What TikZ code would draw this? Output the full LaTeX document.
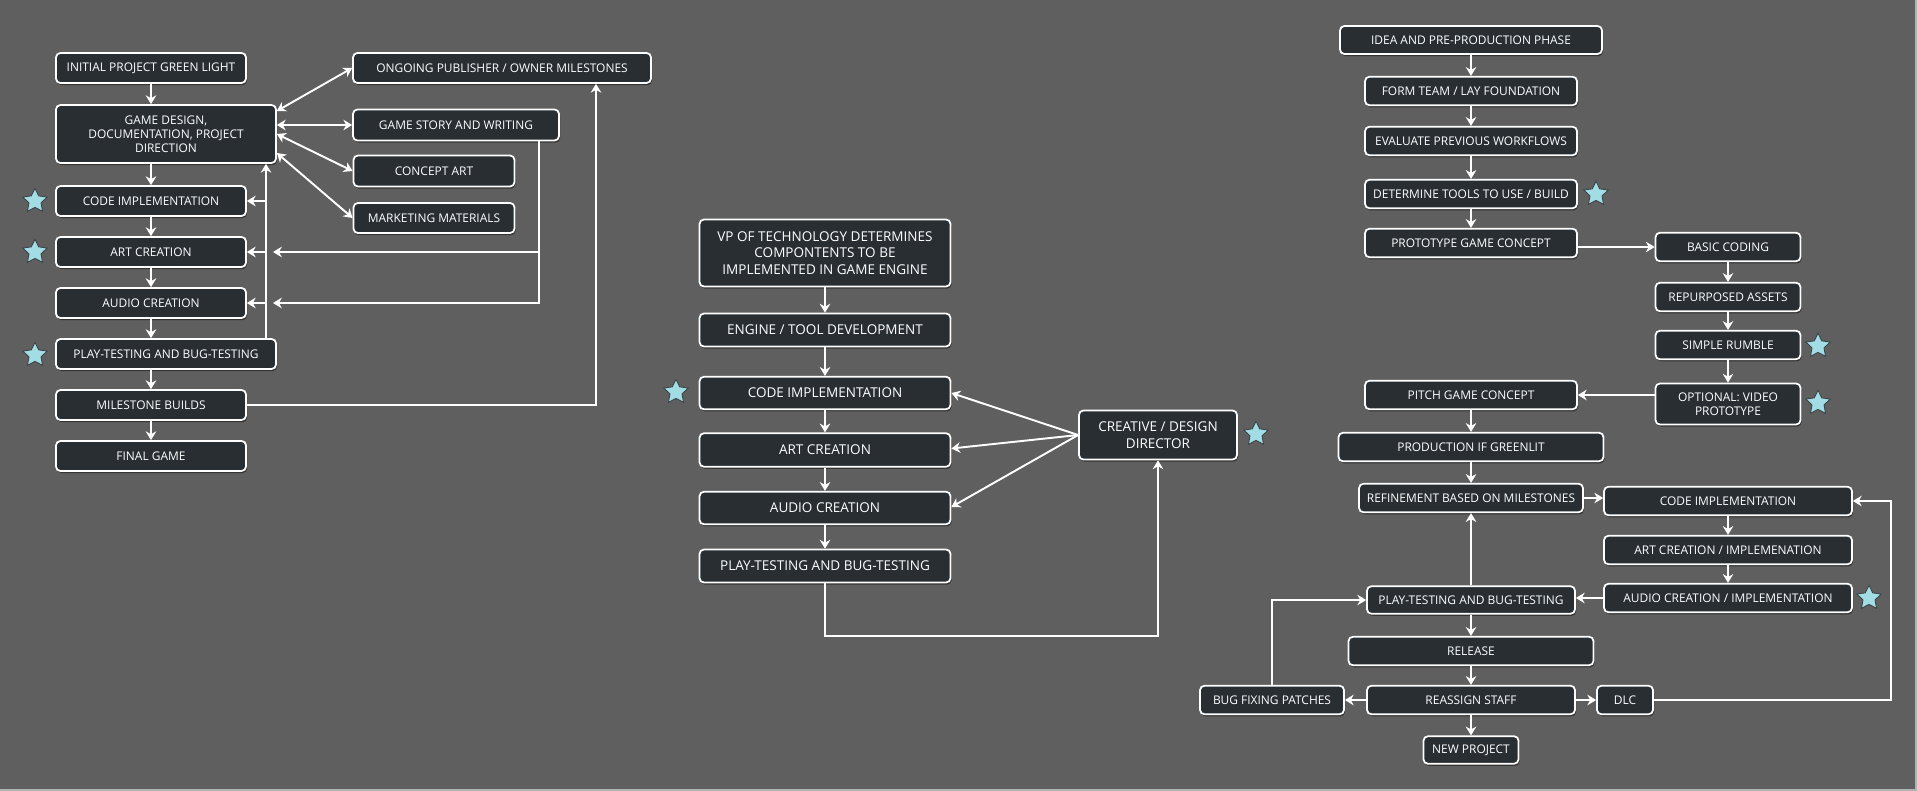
\documentclass[tikz,border=0pt]{standalone}
\usepackage{fontspec}
\setmainfont{Open Sans}
\usetikzlibrary{arrows.meta,shapes.geometric,shadows}

\definecolor{bggray}{HTML}{5F5F5F}
\definecolor{boxfill}{HTML}{282E32}
\definecolor{starblue}{HTML}{A2DCE4}
\definecolor{stardark}{HTML}{3A4448}

\tikzset{
  box/.style={draw=white, line width=1pt, fill=boxfill, rounded corners=2.5pt,
    text=white, align=center, inner sep=1pt, minimum height=0.6cm,
    font=\fontsize{6.8}{8.1}\selectfont,
    drop shadow={shadow xshift=0.6pt, shadow yshift=-1.2pt, opacity=0.45, fill=black}},
  bigbox/.style={box, font=\fontsize{7.7}{9.4}\selectfont},
  link/.style={draw=white, line width=1.1pt, -{Stealth[length=5pt,width=6pt]}},
  twoway/.style={link, {Stealth[length=5pt,width=6pt]}-{Stealth[length=5pt,width=6pt]}},
  flag/.style={star, star points=5, star point ratio=2.0, fill=starblue,
    draw=stardark, line width=0.5pt, minimum size=0.51cm, inner sep=0pt}
}

\begin{document}
\begin{tikzpicture}[x=0.02cm, y=-0.02cm]
  \fill[bggray] (0,0) rectangle (1917,791);
  \useasboundingbox (0,0) rectangle (1917,791);
  \draw[gray!60, line width=0.6pt] (1916,0) -- (1916,790) -- (0,790);

  % left flow
  \node[box, minimum width=3.8cm] (initgl) at (151,68) {INITIAL PROJECT GREEN LIGHT};
  \node[box, minimum width=4.4cm, minimum height=1.16cm] (gdesign) at (166,134)
    {GAME DESIGN,\\ DOCUMENTATION, PROJECT\\ DIRECTION};
  \node[box, minimum width=3.8cm] (lcode) at (151,201) {CODE IMPLEMENTATION};
  \node[box, minimum width=3.8cm] (lart) at (151,252) {ART CREATION};
  \node[box, minimum width=3.8cm] (laudio) at (151,303) {AUDIO CREATION};
  \node[box, minimum width=4.4cm] (lplay) at (166,354) {PLAY-TESTING AND BUG-TESTING};
  \node[box, minimum width=3.8cm] (lmile) at (151,405) {MILESTONE BUILDS};
  \node[box, minimum width=3.8cm] (lfinal) at (151,456) {FINAL GAME};
  \node[box, minimum width=5.96cm] (ongoing) at (502,68) {ONGOING PUBLISHER / OWNER MILESTONES};
  \node[box, minimum width=4.12cm, minimum height=0.62cm] (story) at (456,125) {GAME STORY AND WRITING};
  \node[box, minimum width=3.22cm, minimum height=0.62cm] (concept) at (434,171) {CONCEPT ART};
  \node[box, minimum width=3.22cm] (market) at (434,218) {MARKETING MATERIALS};
  \node[flag] (lstar1) at (35,201) {};
  \node[flag] (lstar2) at (35,252) {};
  \node[flag] (lstar3) at (35,355) {};

  \coordinate (fbx) at (266,0);
  \coordinate (stx) at (539,0);
  \coordinate (sttip) at (273,0);
  \coordinate (msx) at (596,0);

  \draw[link] (initgl) -- (gdesign.north -| initgl);
  \draw[link] (gdesign.south -| lcode) -- (lcode);
  \draw[link] (lcode) -- (lart);
  \draw[link] (lart) -- (laudio);
  \draw[link] (laudio) -- (lplay.north -| laudio);
  \draw[link] (lplay.south -| lmile) -- (lmile);
  \draw[link] (lmile) -- (lfinal);
  \draw[twoway] ([yshift=0.46cm]gdesign.east) -- (ongoing.west);
  \draw[twoway] ([yshift=0.18cm]gdesign.east) -- (story.west);
  \draw[twoway] (gdesign.east) -- (concept.west);
  \draw[twoway] ([yshift=-0.38cm]gdesign.east) -- (market.west);
  \draw[link] (lplay.north -| fbx) -- (gdesign.south -| fbx);
  \draw[link] (lcode.east -| fbx) -- (lcode.east);
  \draw[link] (lart.east -| fbx) -- (lart.east);
  \draw[link] (laudio.east -| fbx) -- (laudio.east);
  \draw[link] (story.south -| stx) |- (laudio.east -| sttip);
  \draw[link] (lart.east -| stx) -- (lart.east -| sttip);
  \draw[link] (lmile.east) -| (ongoing.south -| msx);

  % middle flow
  \node[bigbox, minimum width=5.02cm, minimum height=1.34cm] (vptech) at (825,253)
    {VP OF TECHNOLOGY DETERMINES\\ COMPONTENTS TO BE\\ IMPLEMENTED IN GAME ENGINE};
  \node[bigbox, minimum width=5.02cm, minimum height=0.66cm] (engine) at (825,330) {ENGINE / TOOL DEVELOPMENT};
  \node[bigbox, minimum width=5.02cm, minimum height=0.65cm] (mcode) at (825,393) {CODE IMPLEMENTATION};
  \node[bigbox, minimum width=5.02cm, minimum height=0.67cm] (mart) at (825,450) {ART CREATION};
  \node[bigbox, minimum width=5.02cm, minimum height=0.65cm] (maudio) at (825,508) {AUDIO CREATION};
  \node[bigbox, minimum width=5.02cm, minimum height=0.66cm] (mplay) at (825,566) {PLAY-TESTING AND BUG-TESTING};
  \node[bigbox, minimum width=3.16cm, minimum height=0.98cm] (creative) at (1158,435)
    {CREATIVE / DESIGN\\ DIRECTOR};
  \node[flag] (mstar1) at (676,392) {};
  \node[flag] (mstar2) at (1256,434) {};

  \coordinate (mloop) at (0,636);

  \draw[link] (vptech) -- (engine);
  \draw[link] (engine) -- (mcode);
  \draw[link] (mcode) -- (mart);
  \draw[link] (mart) -- (maudio);
  \draw[link] (maudio) -- (mplay);
  \draw[link] (creative.west) -- (mcode.east);
  \draw[link] (creative.west) -- ([yshift=0.03cm]mart.east);
  \draw[link] (creative.west) -- ([yshift=0.02cm]maudio.east);
  \draw[link] (mplay.south) -- (mplay.south |- mloop) -| (creative.south);

  % right flow
  \node[box, minimum width=5.24cm, minimum height=0.56cm] (idea) at (1471,40) {IDEA AND PRE-PRODUCTION PHASE};
  \node[box, minimum width=4.24cm, minimum height=0.57cm] (formteam) at (1471,91) {FORM TEAM / LAY FOUNDATION};
  \node[box, minimum width=4.24cm, minimum height=0.57cm] (evaluate) at (1471,141) {EVALUATE PREVIOUS WORKFLOWS};
  \node[box, minimum width=4.24cm, minimum height=0.57cm] (tools) at (1471,194) {DETERMINE TOOLS TO USE / BUILD};
  \node[box, minimum width=4.24cm, minimum height=0.57cm] (proto) at (1471,243) {PROTOTYPE GAME CONCEPT};
  \node[box, minimum width=2.9cm, minimum height=0.57cm] (basic) at (1728,247) {BASIC CODING};
  \node[box, minimum width=2.9cm, minimum height=0.57cm] (repurp) at (1728,297) {REPURPOSED ASSETS};
  \node[box, minimum width=2.9cm, minimum height=0.57cm] (rumble) at (1728,345) {SIMPLE RUMBLE};
  \node[box, minimum width=2.9cm, minimum height=0.82cm] (video) at (1728,404) {OPTIONAL: VIDEO\\ PROTOTYPE};
  \node[box, minimum width=4.24cm, minimum height=0.57cm] (pitch) at (1471,395) {PITCH GAME CONCEPT};
  \node[box, minimum width=5.3cm, minimum height=0.57cm] (greenlit) at (1471,447) {PRODUCTION IF GREENLIT};
  \node[box, minimum width=4.48cm, minimum height=0.57cm] (refine) at (1471,498) {REFINEMENT BASED ON MILESTONES};
  \node[box, minimum width=4.96cm, minimum height=0.57cm] (rcode) at (1728,501) {CODE IMPLEMENTATION};
  \node[box, minimum width=4.96cm, minimum height=0.57cm] (rart) at (1728,550) {ART CREATION / IMPLEMENATION};
  \node[box, minimum width=4.96cm, minimum height=0.57cm] (raudio) at (1728,598) {AUDIO CREATION / IMPLEMENTATION};
  \node[box, minimum width=4.16cm, minimum height=0.55cm] (rplay) at (1471,600) {PLAY-TESTING AND BUG-TESTING};
  \node[box, minimum width=4.9cm, minimum height=0.57cm] (release) at (1471,651) {RELEASE};
  \node[box, minimum width=4.16cm, minimum height=0.57cm] (reassign) at (1471,700) {REASSIGN STAFF};
  \node[box, minimum width=2.88cm, minimum height=0.57cm] (bugfix) at (1272,700) {BUG FIXING PATCHES};
  \node[box, minimum width=1.12cm, minimum height=0.57cm] (dlc) at (1625,700) {DLC};
  \node[box, minimum width=1.9cm, minimum height=0.55cm] (newproj) at (1471,750) {NEW PROJECT};
  \node[flag] (rstar1) at (1596,194) {};
  \node[flag] (rstar2) at (1818,346) {};
  \node[flag] (rstar3) at (1818,403) {};
  \node[flag] (rstar4) at (1869,598) {};

  \coordinate (dlcx) at (1891,0);

  \draw[link] (idea) -- (formteam);
  \draw[link] (formteam) -- (evaluate);
  \draw[link] (evaluate) -- (tools);
  \draw[link] (tools) -- (proto);
  \draw[link] (basic.west -| proto.east) -- (basic.west);
  \draw[link] (basic) -- (repurp);
  \draw[link] (repurp) -- (rumble);
  \draw[link] (rumble) -- (video);
  \draw[link] (pitch.east -| video.west) -- (pitch.east);
  \draw[link] (pitch) -- (greenlit);
  \draw[link] (greenlit) -- (refine);
  \draw[link] (refine.east) -- (refine.east -| rcode.west);
  \draw[link] (rcode) -- (rart);
  \draw[link] (rart) -- (raudio);
  \draw[link] (raudio.west) -- (raudio.west -| rplay.east);
  \draw[link] (rplay) -- (refine);
  \draw[link] (rplay) -- (release);
  \draw[link] (release) -- (reassign);
  \draw[link] (reassign) -- (newproj);
  \draw[link] (reassign) -- (bugfix);
  \draw[link] (reassign) -- (dlc);
  \draw[link] (bugfix.north) |- (rplay.west);
  \draw[link] (dlc.east) -| (rcode.east -| dlcx) -- (rcode.east);
\end{tikzpicture}
\end{document}
